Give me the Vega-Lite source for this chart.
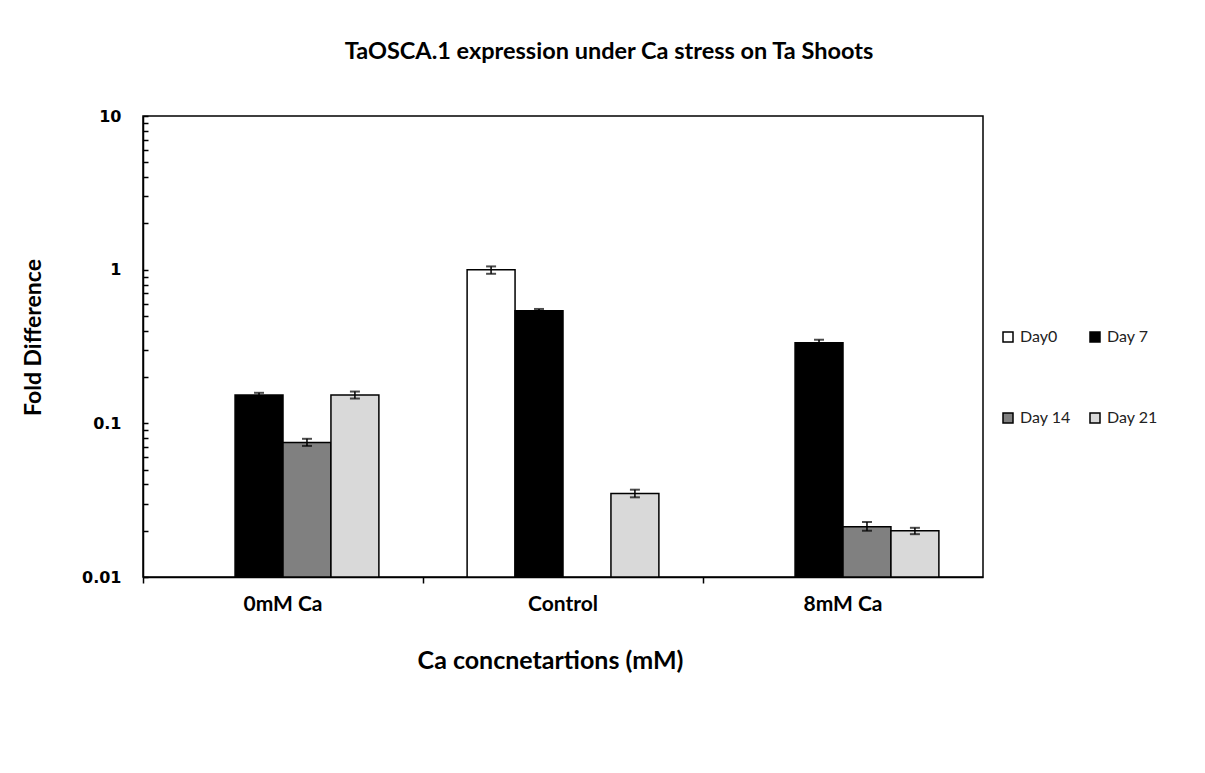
{
  "$schema": "https://vega.github.io/schema/vega-lite/v6.json",
  "width": 840,
  "height": 461,
  "autosize": "none",
  "padding": {"left": 143, "top": 116, "right": 222, "bottom": 196},
  "background": "white",
  "config": {
    "view": {"stroke": "black", "strokeWidth": 1.5},
    "font": "Lato"
  },
  "title": {
    "text": "TaOSCA.1 expression under Ca stress on Ta Shoots",
    "font": "Lato",
    "fontSize": 23.5,
    "fontWeight": "bold",
    "color": "black",
    "anchor": "middle",
    "dx": 46,
    "offset": 45
  },
  "data": {
    "values": [
      {"conc": "0mM Ca", "day": "Day 7", "value": 0.153, "lo": 0.149, "hi": 0.158},
      {"conc": "0mM Ca", "day": "Day 14", "value": 0.075, "lo": 0.0713, "hi": 0.0793},
      {"conc": "0mM Ca", "day": "Day 21", "value": 0.153, "lo": 0.145, "hi": 0.161},
      {"conc": "Control", "day": "Day0", "value": 1.0, "lo": 0.94, "hi": 1.05},
      {"conc": "Control", "day": "Day 7", "value": 0.54, "lo": 0.525, "hi": 0.555},
      {"conc": "Control", "day": "Day 21", "value": 0.035, "lo": 0.033, "hi": 0.037},
      {"conc": "8mM Ca", "day": "Day 7", "value": 0.334, "lo": 0.32, "hi": 0.35},
      {"conc": "8mM Ca", "day": "Day 14", "value": 0.0212, "lo": 0.02, "hi": 0.0228},
      {"conc": "8mM Ca", "day": "Day 21", "value": 0.02, "lo": 0.019, "hi": 0.0209}
    ]
  },
  "encoding": {
    "x": {
      "field": "conc",
      "type": "nominal",
      "sort": ["0mM Ca", "Control", "8mM Ca"],
      "scale": {"paddingInner": 0, "paddingOuter": 0},
      "title": "Ca concnetartions (mM)",
      "axis": {
        "bandPosition": 0,
        "labelAngle": 0,
        "domainColor": "black",
        "domainWidth": 1.5,
        "tickColor": "black",
        "tickWidth": 1.5,
        "tickSize": 6,
        "labelFont": "Lato",
        "labelFontWeight": "bold",
        "labelFontSize": 21,
        "labelColor": "black",
        "labelPadding": 10,
        "titleFont": "Lato",
        "titleFontSize": 25,
        "titleFontWeight": "bold",
        "titleColor": "black",
        "titlePadding": 34,
        "titleX": 407
      }
    },
    "xOffset": {
      "field": "day",
      "type": "nominal",
      "scale": {"domain": ["Day0", "Day 7", "Day 14", "Day 21"], "paddingInner": 0, "paddingOuter": 0.92}
    }
  },
  "layer": [
    {
      "mark": {"type": "bar", "stroke": "black", "strokeWidth": 1.5},
      "encoding": {
        "y": {
          "field": "value",
          "type": "quantitative",
          "scale": {"type": "log", "domain": [0.01, 10]},
          "title": "Fold Difference",
          "axis": {
            "values": [0.01, 0.02, 0.03, 0.04, 0.05, 0.06, 0.07, 0.08, 0.09, 0.1, 0.2, 0.3, 0.4, 0.5, 0.6, 0.7, 0.8, 0.9, 1, 2, 3, 4, 5, 6, 7, 8, 9, 10],
            "labelExpr": "datum.value == 0.01 ? '0.01' : datum.value == 0.1 ? '0.1' : datum.value == 1 ? '1' : datum.value == 10 ? '10' : ''",
            "grid": false,
            "domainColor": "black",
            "domainWidth": 1.5,
            "tickColor": "black",
            "tickWidth": 1.5,
            "tickSize": -5,
            "labelFont": "DejaVu Sans",
            "labelFontWeight": "bold",
            "labelFontSize": 16,
            "labelColor": "black",
            "labelPadding": 27,
            "titleFont": "Lato",
            "titleFontSize": 23,
            "titleFontWeight": "bold",
            "titleColor": "black",
            "titlePadding": 36,
            "titleY": 221
          }
        },
        "y2": {"datum": 0.01},
        "color": {
          "field": "day",
          "type": "nominal",
          "scale": {"domain": ["Day0", "Day 7", "Day 14", "Day 21"], "range": ["#ffffff", "#000000", "#808080", "#d9d9d9"]},
          "legend": {
            "orient": "none",
            "legendX": 857,
            "legendY": 213,
            "direction": "horizontal",
            "columns": 2,
            "title": null,
            "symbolType": "square",
            "symbolSize": 100,
            "symbolStrokeColor": "black",
            "symbolStrokeWidth": 1.5,
            "labelFont": "Lato",
            "labelFontSize": 16,
            "labelColor": "#222222",
            "labelOffset": 4,
            "rowPadding": 65,
            "columnPadding": 16
          }
        }
      }
    },
    {
      "mark": {"type": "rule", "color": "black", "strokeWidth": 1.5},
      "encoding": {
        "y": {"field": "lo", "type": "quantitative"},
        "y2": {"field": "hi"}
      }
    },
    {
      "mark": {"type": "tick", "color": "black", "size": 10, "thickness": 2},
      "encoding": {"y": {"field": "lo", "type": "quantitative"}}
    },
    {
      "mark": {"type": "tick", "color": "black", "size": 10, "thickness": 2},
      "encoding": {"y": {"field": "hi", "type": "quantitative"}}
    }
  ]
}
